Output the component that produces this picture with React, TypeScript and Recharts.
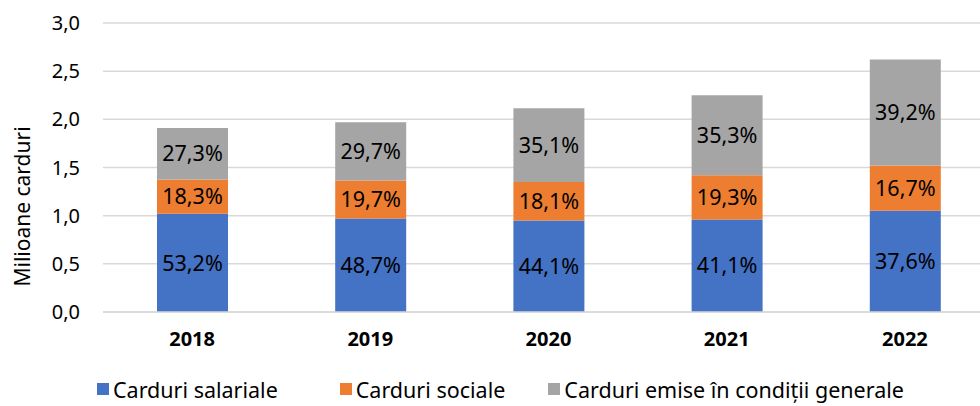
import React from "react";
import { BarChart, Bar, XAxis, YAxis, CartesianGrid, Legend, LabelList } from "recharts";

const years = ["2018", "2019", "2020", "2021", "2022"];
// milioane carduri
const salariale = [1.02, 0.97, 0.95, 0.96, 1.05];
const sociale = [0.355, 0.395, 0.4, 0.46, 0.47];
const generale = [0.535, 0.605, 0.765, 0.83, 1.1];
// ponderi afisate pe bare
const pctSalariale = [53.2, 48.7, 44.1, 41.1, 37.6];
const pctSociale = [18.3, 19.7, 18.1, 19.3, 16.7];
const pctGenerale = [27.3, 29.7, 35.1, 35.3, 39.2];
const yTicks = [0, 0.5, 1, 1.5, 2, 2.5, 3];

const seriesNames = ["Carduri salariale", "Carduri sociale", "Carduri emise în condiții generale"];
const colors = ["#4472C4", "#ED7D31", "#A5A5A5"];

const data = years.map((year, i) => ({
  year,
  sal: salariale[i],
  soc: sociale[i],
  gen: generale[i],
  pSal: pctSalariale[i],
  pSoc: pctSociale[i],
  pGen: pctGenerale[i],
}));

const fmtPct = (v: any) => `${Number(v).toFixed(1).replace(".", ",")}%`;
const fmtAxis = (v: number) => v.toFixed(1).replace(".", ",");

const labelStyle = { fill: "#000", fontSize: 21.5 };

const CustomLegend = () => (
  <div
    style={{
      display: "flex",
      alignItems: "center",
      height: 40,
      paddingLeft: 97,
      fontSize: 21.5,
      color: "#000",
      boxSizing: "border-box",
      paddingTop: 6,
    }}
  >
    {seriesNames.map((name, i) => (
      <div key={name} style={{ display: "flex", alignItems: "center", marginRight: i === 0 ? 62 : 43 }}>
        <span style={{ width: 12, height: 12, background: colors[i], marginRight: 4, display: "inline-block" }} />
        <span>{name}</span>
      </div>
    ))}
  </div>
);

const YLabel = ({ viewBox }: any) => {
  const x = 22;
  const y = viewBox.y + viewBox.height / 2 + 39;
  return (
    <text x={x} y={y} transform={`rotate(-90, ${x}, ${y})`} textAnchor="middle" dominantBaseline="central" fontSize={21} fill="#000">
      Milioane carduri
    </text>
  );
};

export default function App() {
  return (
    <div
      style={{
        position: "absolute",
        left: 0,
        top: 0,
        width: 980,
        height: 406,
        overflow: "hidden",
        background: "#fff",
        fontFamily: "'Noto Sans', sans-serif",
      }}
    >
      <BarChart width={1000} height={406} data={data} margin={{ top: 23, right: 6, left: 0, bottom: 0 }}>
        <CartesianGrid vertical={false} stroke="#d9d9d9" strokeWidth={1.5} />
        <XAxis
          dataKey="year"
          axisLine={{ stroke: "#d9d9d9", strokeWidth: 1.5 }}
          tickLine={false}
          tickSize={0}
          tickMargin={20}
          height={54}
          tick={{ fill: "#000", fontSize: 20, fontWeight: 700 }}
        />
        <YAxis
          width={103}
          domain={[0, 3]}
          ticks={yTicks}
          axisLine={false}
          tickLine={false}
          tickSize={0}
          tickMargin={23}
          tickFormatter={fmtAxis}
          tick={{ fill: "#000", fontSize: 20 }}
          label={<YLabel />}
        />
        <Legend verticalAlign="bottom" height={40} content={<CustomLegend />} />
        <Bar dataKey="sal" name={seriesNames[0]} stackId="a" fill={colors[0]} barSize={71} isAnimationActive={false}>
          <LabelList dataKey="pSal" position="center" formatter={fmtPct} style={labelStyle} />
        </Bar>
        <Bar dataKey="soc" name={seriesNames[1]} stackId="a" fill={colors[1]} barSize={71} isAnimationActive={false}>
          <LabelList dataKey="pSoc" position="center" formatter={fmtPct} style={labelStyle} />
        </Bar>
        <Bar dataKey="gen" name={seriesNames[2]} stackId="a" fill={colors[2]} barSize={71} isAnimationActive={false}>
          <LabelList dataKey="pGen" position="center" formatter={fmtPct} style={labelStyle} />
        </Bar>
      </BarChart>
    </div>
  );
}
